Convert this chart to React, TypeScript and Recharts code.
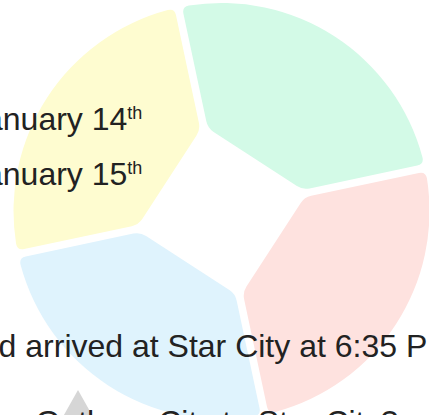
import { PieChart, Pie, Cell } from "recharts";

const sliceNames = ["Green", "Yellow", "Blue", "Red"];
const sliceValues = [25, 25, 25, 25];
const sliceColors = ["#d3fae7", "#fefcd0", "#dff3fd", "#fee2df"];

const dateLines = ["January 14", "January 15"];
const dateSuffix = "th";
const arrivalLine = "and arrived at Star City at 6:35 PM";
const questionLine = "Gotham City to Star City?";

const data = sliceNames.map((name, i) => ({ name, value: sliceValues[i] }));

const RAD = Math.PI / 180;
const pt = (cx: number, cy: number, r: number, a: number) => [
    cx + r * Math.cos(-a * RAD),
    cy + r * Math.sin(-a * RAD),
];
const toward = (a: number[], b: number[], d: number) => {
    const dx = b[0] - a[0];
    const dy = b[1] - a[1];
    const len = Math.hypot(dx, dy);
    return [a[0] + (dx / len) * d, a[1] + (dy / len) * d];
};

// slice with straight inner edge, even-width gaps and rounded corners
function Slice(props: any) {
    const { cx, cy, innerRadius: ri, outerRadius: ro, startAngle: s, endAngle: e, fill } = props;
    const dir = e >= s ? 1 : -1;
    const h = 3.8;
    const c = 7;
    const po = Math.asin(h / ro) / RAD;
    const pi = Math.asin(h / ri) / RAD;
    const ca = c / ro / RAD;
    const p1 = pt(cx, cy, ro, s + dir * po);
    const p2 = pt(cx, cy, ro, e - dir * po);
    const p3 = pt(cx, cy, ri, e - dir * pi);
    const p4 = pt(cx, cy, ri, s + dir * pi);
    const b1 = pt(cx, cy, ro, s + dir * (po + ca));
    const b2 = pt(cx, cy, ro, e - dir * (po + ca));
    const A = toward(p1, p4, c);
    const D = toward(p2, p3, c);
    const E = toward(p3, p2, c);
    const F = toward(p3, p4, c);
    const G = toward(p4, p3, c);
    const H = toward(p4, p1, c);
    const span = Math.abs(e - s) - 2 * (po + ca);
    const large = span > 180 ? 1 : 0;
    const sweep = dir > 0 ? 0 : 1;
    const d =
        `M${A[0]},${A[1]} Q${p1[0]},${p1[1]} ${b1[0]},${b1[1]} ` +
        `A${ro},${ro} 0 ${large} ${sweep} ${b2[0]},${b2[1]} ` +
        `Q${p2[0]},${p2[1]} ${D[0]},${D[1]} L${E[0]},${E[1]} ` +
        `Q${p3[0]},${p3[1]} ${F[0]},${F[1]} L${G[0]},${G[1]} ` +
        `Q${p4[0]},${p4[1]} ${H[0]},${H[1]} Z`;
    return <path d={d} fill={fill} stroke="none" />;
}

const font = "'Liberation Sans', Arial, Helvetica, sans-serif";

export default function App() {
    const pieProps: any = {
        shape: Slice,
        activeShape: Slice,
        inactiveShape: Slice,
    };
    return (
        <div style={{ position: "absolute", left: 0, top: 0, width: 429, height: 415 }}>
            <PieChart width={429} height={415} margin={{ top: 0, right: 0, bottom: 0, left: 0 }}>
                <Pie
                    data={data}
                    dataKey="value"
                    nameKey="name"
                    cx={221.5}
                    cy={211}
                    innerRadius={84}
                    outerRadius={208}
                    startAngle={12}
                    endAngle={372}
                    paddingAngle={0}
                    stroke="none"
                    isAnimationActive={false}
                    {...pieProps}
                >
                    {data.map((d, i) => (
                        <Cell key={d.name} fill={sliceColors[i]} />
                    ))}
                </Pie>
            </PieChart>
            <svg
                width={429}
                height={415}
                style={{ position: "absolute", left: 0, top: 0, pointerEvents: "none" }}
            >
                <polygon points="78,390 60,422 96,422" fill="#d6d6d6" />
                <g fontFamily={font} fontSize={32} fill="#222">
                    {dateLines.map((t, i) => (
                        <text key={t} x={-31} y={130 + i * 55}>
                            {t}
                            <tspan fontSize={18} dy={-11}>
                                {dateSuffix}
                            </tspan>
                        </text>
                    ))}
                    <text x={-37} y={357}>
                        {arrivalLine}
                    </text>
                    <text x={35.5} y={433}>
                        {questionLine}
                    </text>
                </g>
            </svg>
        </div>
    );
}
